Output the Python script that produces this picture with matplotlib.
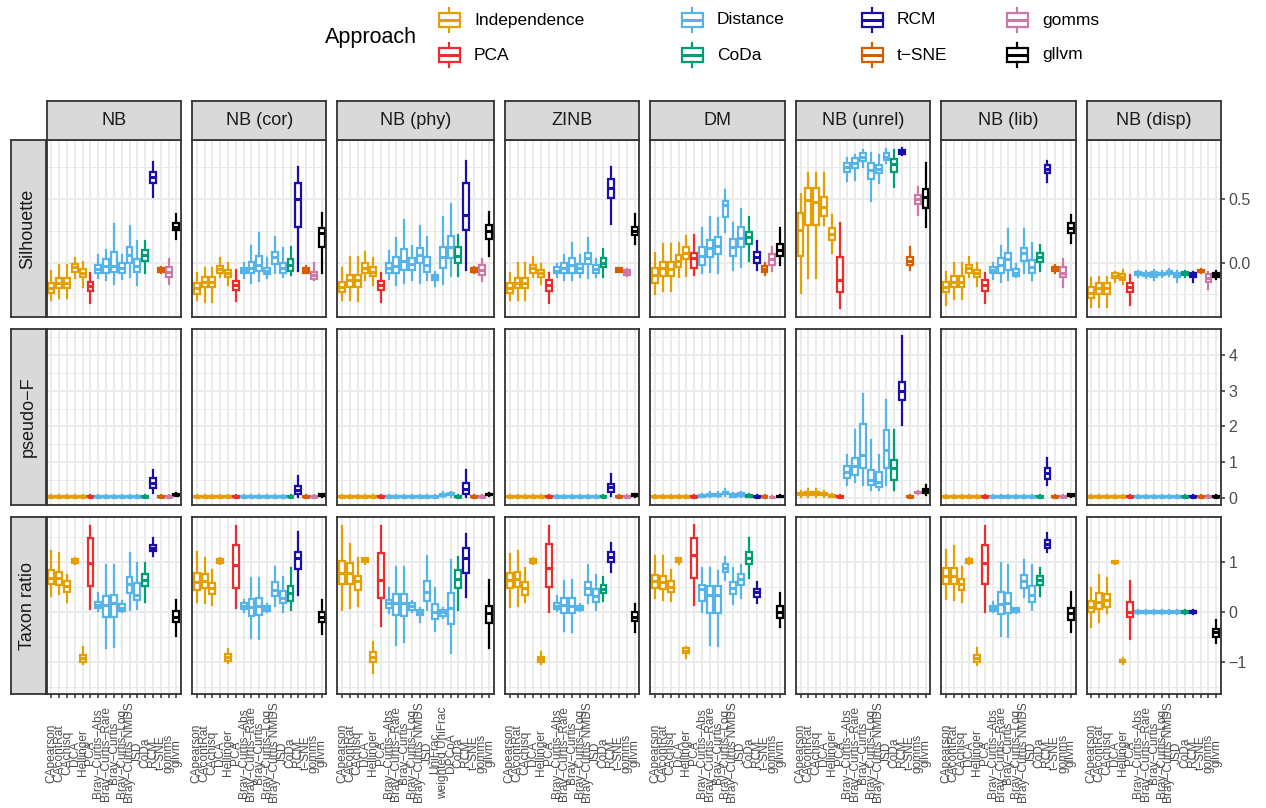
import matplotlib.pyplot as plt
from matplotlib.patches import Rectangle

plt.rcParams['font.family'] = ['Liberation Sans', 'DejaVu Sans']

W, H = 1266, 808

# methods in plotting order; NB (phy) has the phylogenetic distances as well
base_methods = ["CApearson", "CAcontRat", "CAchisq", "DCA", "Hellinger", "PCA",
                "Bray−Curtis−Abs", "Bray−Curtis−Rare", "Bray−Curtis", "Bray−Curtis−Log",
                "Bray−Curtis NMDS", "JSD", "CoDa", "RCM", "t−SNE", "gomms", "gllvm"]
phy_methods = base_methods[:12] + ["UniFrac", "weighted UniFrac", "DPCoA"] + base_methods[12:]

approach_of = {"CApearson": "Independence", "CAcontRat": "Independence", "CAchisq": "Independence",
               "DCA": "Independence", "Hellinger": "Independence", "PCA": "PCA",
               "CoDa": "CoDa", "RCM": "RCM", "t−SNE": "t−SNE", "gomms": "gomms", "gllvm": "gllvm"}
approaches = ["Independence", "PCA", "Distance", "CoDa", "RCM", "t−SNE", "gomms", "gllvm"]
approach_colors = ["#E69F00", "#EE2C2C", "#56B4E9", "#009E73", "#1A0DAB", "#D55E00", "#CC79A7", "#000000"]

col_names = ["NB", "NB (cor)", "NB (phy)", "ZINB", "DM", "NB (unrel)", "NB (lib)", "NB (disp)"]
row_names = ["Silhouette", "pseudo−F", "Taxon ratio"]

# box summaries: (lower whisker, q1, median, q3, upper whisker)
sil_nb = [(-0.294, -0.236, -0.200, -0.163, -0.066), (-0.281, -0.202, -0.157, -0.123, -0.018),
          (-0.276, -0.202, -0.157, -0.118, -0.018), (-0.123, -0.071, -0.037, -0.010, 0.034),
          (-0.189, -0.115, -0.084, -0.052, 0.008), (-0.320, -0.220, -0.184, -0.150, -0.079),
          (-0.123, -0.084, -0.052, -0.018, 0.060), (-0.136, -0.079, -0.026, 0.026, 0.100),
          (-0.168, -0.073, -0.026, 0.087, 0.304), (-0.131, -0.079, -0.039, -0.005, 0.060),
          (-0.115, 0.000, 0.060, 0.126, 0.289), (-0.176, -0.073, -0.026, 0.026, 0.173),
          (-0.079, 0.016, 0.058, 0.100, 0.173), (0.520, 0.630, 0.672, 0.711, 0.790),
          (-0.079, -0.071, -0.055, -0.039, -0.031), (-0.171, -0.110, -0.071, -0.031, 0.026),
          (0.186, 0.257, 0.283, 0.310, 0.383)]
sil_cor = [(-0.294, -0.247, -0.202, -0.157, -0.079), (-0.307, -0.194, -0.150, -0.110, -0.039),
           (-0.307, -0.194, -0.150, -0.110, -0.039), (-0.115, -0.079, -0.052, -0.026, 0.034),
           (-0.176, -0.115, -0.084, -0.058, -0.005), (-0.299, -0.215, -0.178, -0.142, -0.058),
           (-0.123, -0.079, -0.058, -0.039, -0.005), (-0.157, -0.079, -0.039, 0.008, 0.131),
           (-0.142, -0.063, -0.018, 0.055, 0.236), (-0.123, -0.092, -0.066, -0.045, 0.034),
           (-0.084, -0.010, 0.047, 0.087, 0.199), (-0.115, -0.079, -0.045, 0.000, 0.113),
           (-0.097, -0.063, -0.018, 0.026, 0.126), (-0.063, 0.278, 0.499, 0.625, 0.756),
           (-0.084, -0.079, -0.058, -0.045, -0.026), (-0.136, -0.131, -0.097, -0.071, -0.005),
           (-0.084, 0.126, 0.231, 0.270, 0.388)]
sil_phy = [(-0.294, -0.228, -0.189, -0.150, -0.045), (-0.294, -0.189, -0.136, -0.097, 0.042),
           (-0.299, -0.194, -0.136, -0.097, 0.042), (-0.136, -0.079, -0.045, -0.005, 0.087),
           (-0.176, -0.105, -0.071, -0.037, 0.034), (-0.307, -0.215, -0.178, -0.142, -0.084),
           (-0.131, -0.084, -0.045, -0.005, 0.094), (-0.176, -0.079, -0.026, 0.042, 0.192),
           (-0.163, -0.058, 0.016, 0.105, 0.336), (-0.136, -0.058, -0.010, 0.034, 0.131),
           (-0.163, -0.005, 0.060, 0.113, 0.289), (-0.136, -0.071, -0.018, 0.047, 0.199),
           (-0.184, -0.136, -0.115, -0.097, -0.071), (-0.168, -0.045, 0.047, 0.121, 0.362),
           (-0.105, 0.034, 0.126, 0.213, 0.462), (-0.105, 0.000, 0.052, 0.126, 0.218),
           (-0.058, 0.257, 0.375, 0.625, 0.803), (-0.079, -0.076, -0.058, -0.045, -0.037),
           (-0.142, -0.097, -0.058, -0.018, 0.026), (0.052, 0.186, 0.252, 0.297, 0.402)]
sil_zinb = [(-0.294, -0.241, -0.202, -0.163, -0.084), (-0.294, -0.202, -0.163, -0.123, -0.005),
            (-0.294, -0.202, -0.157, -0.118, -0.005), (-0.115, -0.079, -0.045, -0.018, 0.047),
            (-0.168, -0.115, -0.084, -0.058, -0.010), (-0.320, -0.220, -0.178, -0.136, -0.084),
            (-0.115, -0.084, -0.063, -0.037, -0.010), (-0.136, -0.084, -0.045, 0.000, 0.060),
            (-0.136, -0.079, -0.018, 0.034, 0.157), (-0.115, -0.079, -0.045, -0.010, 0.060),
            (-0.123, -0.010, 0.034, 0.073, 0.192), (-0.115, -0.079, -0.052, -0.018, 0.026),
            (-0.110, -0.037, 0.000, 0.034, 0.105), (0.304, 0.507, 0.585, 0.656, 0.751),
            (-0.076, -0.071, -0.058, -0.045, -0.039), (-0.102, -0.094, -0.076, -0.058, -0.052),
            (0.147, 0.218, 0.252, 0.283, 0.383)]
sil_dm = [(-0.247, -0.163, -0.097, -0.045, 0.079), (-0.220, -0.105, -0.045, 0.008, 0.147),
          (-0.220, -0.105, -0.050, 0.008, 0.147), (-0.110, -0.031, 0.016, 0.060, 0.152),
          (-0.105, 0.026, 0.079, 0.121, 0.210), (-0.097, -0.045, 0.034, 0.073, 0.218),
          (-0.084, -0.018, 0.052, 0.121, 0.270), (-0.071, 0.042, 0.113, 0.178, 0.357),
          (-0.079, 0.068, 0.131, 0.205, 0.349), (0.244, 0.362, 0.454, 0.486, 0.572),
          (-0.058, 0.052, 0.121, 0.184, 0.310), (-0.031, 0.126, 0.192, 0.283, 0.420),
          (0.016, 0.147, 0.199, 0.244, 0.362), (-0.058, 0.000, 0.047, 0.087, 0.173),
          (-0.097, -0.071, -0.050, -0.026, -0.005), (-0.063, -0.018, 0.026, 0.068, 0.121),
          (-0.018, 0.052, 0.100, 0.147, 0.270)]
sil_unrel = [(-0.241, 0.052, 0.257, 0.394, 0.538), (-0.123, 0.297, 0.493, 0.585, 0.709),
             (-0.123, 0.297, 0.480, 0.585, 0.709), (0.297, 0.367, 0.441, 0.520, 0.709),
             (0.073, 0.178, 0.226, 0.270, 0.375), (-0.360, -0.228, -0.136, 0.042, 0.310),
             (0.646, 0.717, 0.756, 0.782, 0.822), (0.651, 0.743, 0.782, 0.822, 0.848),
             (0.756, 0.803, 0.835, 0.861, 0.887), (0.488, 0.656, 0.730, 0.782, 0.861),
             (0.625, 0.703, 0.735, 0.769, 0.848), (0.782, 0.808, 0.835, 0.861, 0.892),
             (0.598, 0.717, 0.777, 0.814, 0.887), (0.845, 0.856, 0.871, 0.887, 0.900),
             (-0.058, -0.018, 0.013, 0.047, 0.126), (0.375, 0.462, 0.499, 0.533, 0.593),
             (0.278, 0.428, 0.520, 0.577, 0.782)]
sil_lib = [(-0.333, -0.228, -0.189, -0.150, -0.071), (-0.289, -0.189, -0.150, -0.105, 0.000),
           (-0.289, -0.189, -0.150, -0.105, 0.000), (-0.115, -0.079, -0.045, -0.018, 0.047),
           (-0.184, -0.115, -0.084, -0.058, -0.005), (-0.320, -0.220, -0.178, -0.136, -0.079),
           (-0.131, -0.084, -0.058, -0.031, 0.000), (-0.150, -0.079, -0.018, 0.034, 0.131),
           (-0.136, -0.058, 0.026, 0.073, 0.262), (-0.115, -0.105, -0.079, -0.052, -0.010),
           (-0.084, 0.016, 0.079, 0.118, 0.262), (-0.136, -0.079, -0.037, 0.021, 0.157),
           (-0.063, 0.008, 0.042, 0.073, 0.139), (0.638, 0.709, 0.738, 0.769, 0.803),
           (-0.079, -0.066, -0.050, -0.037, -0.018), (-0.189, -0.110, -0.079, -0.037, 0.026),
           (0.157, 0.236, 0.276, 0.310, 0.375)]
sil_disp = [(-0.352, -0.281, -0.236, -0.189, -0.123), (-0.346, -0.247, -0.202, -0.163, -0.115),
            (-0.346, -0.247, -0.202, -0.163, -0.115), (-0.150, -0.123, -0.105, -0.084, -0.071),
            (-0.168, -0.136, -0.115, -0.092, -0.058), (-0.333, -0.228, -0.189, -0.157, -0.097),
            (-0.110, -0.097, -0.084, -0.073, -0.063), (-0.123, -0.105, -0.092, -0.079, -0.063),
            (-0.136, -0.110, -0.092, -0.073, -0.058), (-0.110, -0.097, -0.087, -0.079, -0.068),
            (-0.105, -0.089, -0.076, -0.066, -0.052), (-0.150, -0.110, -0.094, -0.079, -0.063),
            (-0.110, -0.100, -0.087, -0.073, -0.066), (-0.150, -0.115, -0.100, -0.084, -0.071),
            (-0.084, -0.076, -0.066, -0.058, -0.052), (-0.210, -0.150, -0.118, -0.089, -0.071),
            (-0.131, -0.115, -0.097, -0.079, -0.066)]

# pseudo-F: most methods sit right at zero
Z = (0.00, 0.015, 0.03, 0.05, 0.07)
pf_nb = [Z, Z, Z, Z, Z, Z, Z, Z, Z, Z, Z, Z, Z, (0.14, 0.28, 0.42, 0.56, 0.78), Z, Z,
         (0.05, 0.07, 0.09, 0.11, 0.13)]
pf_cor = [Z, Z, Z, Z, Z, Z, Z, Z, Z, Z, Z, Z, Z, (0.03, 0.11, 0.22, 0.34, 0.62), Z, Z,
          (0.04, 0.06, 0.08, 0.10, 0.12)]
pf_phy = [Z, Z, Z, Z, Z, Z, Z, Z, Z, Z, Z, Z, Z, (0.04, 0.06, 0.09, 0.12, 0.16),
          (0.04, 0.07, 0.10, 0.13, 0.18), Z, (0.03, 0.11, 0.25, 0.42, 0.78), Z, Z,
          (0.05, 0.08, 0.10, 0.12, 0.14)]
pf_zinb = [Z, Z, Z, Z, Z, Z, Z, Z, Z, Z, Z, Z, Z, (0.06, 0.17, 0.30, 0.39, 0.67), Z, Z,
           (0.04, 0.06, 0.08, 0.10, 0.12)]
pf_dm = [Z, Z, Z, Z, Z, Z, (0.02, 0.04, 0.06, 0.08, 0.12), (0.02, 0.05, 0.08, 0.11, 0.16),
         (0.02, 0.05, 0.08, 0.12, 0.18), (0.06, 0.10, 0.14, 0.18, 0.24),
         (0.02, 0.04, 0.07, 0.10, 0.14), (0.03, 0.06, 0.10, 0.13, 0.18),
         (0.02, 0.04, 0.06, 0.08, 0.10), Z, Z, (0.01, 0.02, 0.03, 0.04, 0.06),
         (0.02, 0.03, 0.05, 0.06, 0.08)]
pf_unrel = [(0.03, 0.07, 0.10, 0.13, 0.20), (0.04, 0.09, 0.12, 0.17, 0.26),
            (0.04, 0.09, 0.13, 0.17, 0.26), (0.04, 0.08, 0.11, 0.14, 0.20),
            (0.02, 0.04, 0.05, 0.07, 0.10), Z,
            (0.36, 0.56, 0.73, 0.90, 1.20), (0.45, 0.64, 0.90, 1.12, 1.90),
            (0.36, 0.84, 1.20, 2.07, 2.90), (0.22, 0.36, 0.50, 0.78, 1.62),
            (0.22, 0.31, 0.45, 0.73, 1.20), (0.36, 0.84, 1.34, 1.90, 2.74),
            (0.22, 0.50, 0.84, 1.06, 1.90), (2.04, 2.74, 3.00, 3.24, 4.53), Z,
            (0.12, 0.14, 0.16, 0.18, 0.20), (0.08, 0.14, 0.20, 0.25, 0.36)]
pf_lib = [Z, Z, Z, Z, Z, Z, Z, Z, Z, Z, Z, Z, Z, (0.36, 0.53, 0.70, 0.84, 1.12), Z, Z,
          (0.04, 0.06, 0.08, 0.10, 0.12)]
pf_disp = [Z, Z, Z, Z, Z, Z, Z, Z, Z, Z, Z, Z, Z, Z, Z, Z, Z]

tr_nb = [(0.327, 0.553, 0.687, 0.840, 1.220), (0.353, 0.540, 0.673, 0.807, 1.173),
         (0.207, 0.393, 0.520, 0.620, 0.740), (0.967, 0.987, 1.027, 1.060, 1.073),
         (-1.040, -0.993, -0.913, -0.860, -0.693), (0.060, 0.527, 0.987, 1.487, 1.727),
         (0.020, 0.073, 0.140, 0.207, 0.373), (-0.713, -0.107, 0.140, 0.320, 0.940),
         (-0.693, -0.093, 0.173, 0.340, 0.940), (-0.007, 0.027, 0.087, 0.153, 0.220),
         (0.040, 0.373, 0.553, 0.707, 1.173), (0.060, 0.240, 0.340, 0.573, 0.973),
         (0.193, 0.527, 0.640, 0.753, 0.973), (1.127, 1.220, 1.287, 1.340, 1.473),
         None, None, (-0.473, -0.207, -0.093, 0.020, 0.240)]
tr_cor = [(0.193, 0.440, 0.607, 0.773, 1.193), (0.173, 0.473, 0.620, 0.753, 1.087),
          (0.140, 0.353, 0.473, 0.587, 0.840), (0.967, 0.987, 1.027, 1.060, 1.073),
          (-1.027, -0.973, -0.907, -0.847, -0.740), (0.087, 0.473, 0.940, 1.340, 1.727),
          (0.007, 0.053, 0.127, 0.173, 0.240), (-0.513, -0.073, 0.107, 0.260, 0.687),
          (-0.540, -0.060, 0.127, 0.287, 0.687), (-0.007, 0.020, 0.073, 0.127, 0.153),
          (0.127, 0.327, 0.440, 0.593, 0.907), (0.007, 0.173, 0.287, 0.420, 0.707),
          (0.040, 0.220, 0.373, 0.527, 0.887), (0.340, 0.860, 1.073, 1.207, 1.593),
          None, None, (-0.447, -0.193, -0.093, 0.007, 0.240)]
tr_phy = [(0.040, 0.553, 0.773, 1.020, 1.727), (0.087, 0.553, 0.773, 0.973, 1.353),
          (0.127, 0.440, 0.620, 0.727, 1.087), (0.967, 0.993, 1.033, 1.073, 1.087),
          (-1.227, -0.993, -0.893, -0.807, -0.593), (-0.273, 0.273, 0.640, 1.173, 1.727),
          (-0.027, 0.073, 0.173, 0.240, 0.473), (-0.660, -0.060, 0.173, 0.353, 0.907),
          (-0.607, -0.073, 0.173, 0.353, 0.907), (-0.007, 0.040, 0.127, 0.173, 0.220),
          (-0.207, -0.060, -0.007, 0.040, 0.073), (0.040, 0.220, 0.407, 0.620, 1.127),
          (-0.380, -0.140, 0.007, 0.153, 0.473), (-0.113, -0.073, -0.007, 0.040, 0.087),
          (-0.827, -0.247, 0.073, 0.373, 1.040), (0.040, 0.487, 0.660, 0.840, 1.107),
          (0.307, 0.773, 1.073, 1.287, 1.553), None, None,
          (-0.727, -0.227, -0.027, 0.127, 0.640)]
tr_zinb = [(0.107, 0.487, 0.640, 0.773, 1.153), (0.127, 0.507, 0.660, 0.793, 1.220),
           (0.193, 0.340, 0.487, 0.607, 0.873), (0.967, 0.973, 1.013, 1.053, 1.073),
           (-1.047, -0.993, -0.940, -0.893, -0.807), (0.007, 0.507, 0.887, 1.353, 1.727),
           (0.020, 0.060, 0.127, 0.173, 0.327), (-0.380, -0.027, 0.140, 0.287, 0.620),
           (-0.393, -0.027, 0.127, 0.287, 0.640), (0.020, 0.040, 0.087, 0.127, 0.153),
           (0.173, 0.340, 0.487, 0.607, 0.940), (0.040, 0.193, 0.327, 0.460, 0.740),
           (0.220, 0.373, 0.460, 0.540, 0.707), (0.793, 1.007, 1.107, 1.207, 1.373),
           None, None, (-0.407, -0.180, -0.093, -0.007, 0.153)]
tr_dm = [(0.273, 0.473, 0.620, 0.740, 1.127), (0.240, 0.460, 0.607, 0.727, 1.127),
         (0.220, 0.393, 0.507, 0.620, 0.840), (0.967, 0.993, 1.033, 1.073, 1.087),
         (-0.913, -0.827, -0.780, -0.727, -0.693), (0.140, 0.687, 1.140, 1.487, 1.740),
         (0.007, 0.220, 0.460, 0.540, 0.873), (-0.660, -0.027, 0.340, 0.527, 0.873),
         (-0.673, -0.027, 0.340, 0.527, 0.820), (0.640, 0.807, 0.887, 0.953, 1.107),
         (0.153, 0.353, 0.487, 0.607, 0.887), (0.287, 0.540, 0.660, 0.753, 0.940),
         (0.687, 0.953, 1.073, 1.193, 1.473), (0.173, 0.307, 0.393, 0.460, 0.593),
         None, None, (-0.293, -0.127, 0.007, 0.127, 0.373)]
tr_unrel = [None] * 17
tr_lib = [(0.260, 0.553, 0.727, 0.887, 1.240), (0.240, 0.553, 0.727, 0.887, 1.327),
          (0.193, 0.440, 0.553, 0.660, 0.907), (0.967, 0.973, 1.020, 1.060, 1.073),
          (-1.060, -0.993, -0.927, -0.860, -0.713), (-0.007, 0.553, 0.973, 1.340, 1.727),
          (0.007, 0.027, 0.073, 0.127, 0.193), (-0.473, -0.047, 0.153, 0.393, 0.973),
          (-0.493, -0.027, 0.173, 0.373, 0.940), (-0.013, -0.007, 0.033, 0.073, 0.087),
          (0.307, 0.487, 0.620, 0.740, 1.040), (0.040, 0.193, 0.340, 0.527, 0.940),
          (0.327, 0.540, 0.640, 0.727, 0.887), (1.193, 1.287, 1.367, 1.440, 1.573),
          None, None, (-0.393, -0.160, -0.027, 0.073, 0.393)]
T0 = (-0.040, -0.020, 0.000, 0.020, 0.040)
tr_disp = [(-0.293, -0.007, 0.107, 0.220, 0.487), (-0.193, 0.060, 0.193, 0.373, 0.740),
           (-0.027, 0.107, 0.240, 0.353, 0.687), (0.970, 0.985, 1.000, 1.015, 1.030),
           (-1.047, -1.007, -0.980, -0.960, -0.927), (-0.540, -0.093, 0.007, 0.207, 0.620),
           T0, T0, T0, T0, T0, T0, T0, T0, None, None,
           (-0.627, -0.493, -0.407, -0.340, -0.160)]

panel_methods = [base_methods, base_methods, phy_methods, base_methods,
                 base_methods, base_methods, base_methods, base_methods]
grid_data = [
    [sil_nb, sil_cor, sil_phy, sil_zinb, sil_dm, sil_unrel, sil_lib, sil_disp],
    [pf_nb, pf_cor, pf_phy, pf_zinb, pf_dm, pf_unrel, pf_lib, pf_disp],
    [tr_nb, tr_cor, tr_phy, tr_zinb, tr_dm, tr_unrel, tr_lib, tr_disp],
]
row_ylim = [(-0.428, 0.966), (-0.21, 4.74), (-1.64, 1.90)]
row_major = [[0.0, 0.5], [0, 1, 2, 3, 4], [-1, 0, 1]]
row_major_labels = [["0.0", "0.5"], ["0", "1", "2", "3", "4"], ["−1", "0", "1"]]
row_minor = [[-0.25, 0.25, 0.75], [0.5, 1.5, 2.5, 3.5, 4.5], [-1.5, -0.5, 0.5, 1.5]]

color_of = dict(zip(approaches, approach_colors))


def method_color(m):
    return color_of[approach_of.get(m, "Distance")]


def px_axes(fig, x0, y0, x1, y1):
    return fig.add_axes([x0 / W, 1 - y1 / H, (x1 - x0) / W, (y1 - y0) / H])


BORDER = "#333333"
GRID = "#EBEBEB"
LW = 1.6

fig = plt.figure(figsize=(W / 100, H / 100), dpi=100)

# panel geometry in pixels (free x space, width follows number of methods)
left0, gap, right_end = 46.7, 11.0, 1221.0
n_units = [len(m) + 1.2 for m in panel_methods]
unit = (right_end - left0 - gap * (len(col_names) - 1)) / sum(n_units)
col_x = []
x = left0
for nu in n_units:
    col_x.append((x, x + nu * unit))
    x += nu * unit + gap
row_y = [(140.0, 317.0), (328.5, 505.5), (517.0, 694.0)]

for r in range(3):
    for c in range(len(col_names)):
        x0, x1 = col_x[c]
        y0, y1 = row_y[r]
        ax = px_axes(fig, x0, y0, x1, y1)
        methods = panel_methods[c]
        n = len(methods)
        ax.set_xlim(0.4, n + 0.6)
        ax.set_ylim(*row_ylim[r])
        ax.set_axisbelow(True)
        ax.set_xticks(range(1, n + 1))
        ax.set_yticks(row_major[r])
        ax.set_yticks(row_minor[r], minor=True)
        ax.grid(which="major", color=GRID, linewidth=1.4)
        ax.grid(which="minor", axis="y", color=GRID, linewidth=0.7)
        for s in ax.spines.values():
            s.set_color(BORDER)
            s.set_linewidth(1.3)

        for i, (m, st) in enumerate(zip(methods, grid_data[r][c]), start=1):
            if st is None:
                continue
            lo, q1, med, q3, hi = st
            col = method_color(m)
            ax.bxp([dict(whislo=lo, q1=q1, med=med, q3=q3, whishi=hi, fliers=[])],
                   positions=[i], widths=0.75, showcaps=False, patch_artist=True,
                   manage_ticks=False,
                   boxprops=dict(facecolor="white", edgecolor=col, linewidth=LW),
                   whiskerprops=dict(color=col, linewidth=LW),
                   medianprops=dict(color=col, linewidth=2.2, solid_capstyle="butt"))

        if r == 2:
            # labels are centred on a common line below the panel
            ax.set_xticklabels(methods, rotation=90, fontsize=8.6, color="#4D4D4D",
                               ha="center", va="center")
            ax.tick_params(axis="x", length=3, width=1.1, color=BORDER, pad=39.5)
        else:
            ax.tick_params(axis="x", length=0, labelbottom=False)

        ax.tick_params(axis="y", which="minor", length=0)
        if c == len(col_names) - 1:
            ax.yaxis.tick_right()
            ax.set_yticklabels(row_major_labels[r])
            ax.tick_params(axis="y", which="major", length=3, width=1.1, color=BORDER,
                           labelsize=11.5, labelcolor="#4D4D4D", pad=2.5)
        else:
            ax.tick_params(axis="y", which="both", left=False, labelleft=False)

        # column strip on top
        if r == 0:
            sx = px_axes(fig, x0, 101.0, x1, 140.0)
            sx.set_facecolor("#D9D9D9")
            sx.set_xticks([])
            sx.set_yticks([])
            for s in sx.spines.values():
                s.set_color(BORDER)
                s.set_linewidth(1.3)
            sx.text(0.5, 0.5, col_names[c], ha="center", va="center", fontsize=13,
                    color="#1A1A1A", transform=sx.transAxes)

    # row strip on the left
    y0, y1 = row_y[r]
    sy = px_axes(fig, 10.5, y0, 45.5, y1)
    sy.set_facecolor("#D9D9D9")
    sy.set_xticks([])
    sy.set_yticks([])
    for s in sy.spines.values():
        s.set_color(BORDER)
        s.set_linewidth(1.3)
    sy.text(0.5, 0.5, row_names[r], ha="center", va="center", rotation=90, fontsize=13,
            color="#1A1A1A", transform=sy.transAxes)

# legend drawn in pixel coordinates
lg = fig.add_axes([0, 0, 1, 1], facecolor="none")
lg.set_xlim(0, W)
lg.set_ylim(H, 0)
lg.axis("off")
lg.text(325, 38, "Approach", ha="left", va="center", fontsize=15.5, color="black")
key_x = [449, 692, 872, 1017]
key_y = [20, 55]
for k, (name, col) in enumerate(zip(approaches, approach_colors)):
    cx = key_x[k // 2]
    cy = key_y[k % 2]
    lg.add_patch(Rectangle((cx - 10.5, cy - 7), 21, 14, facecolor="white", edgecolor=col,
                           linewidth=LW))
    lg.plot([cx - 10.5, cx + 10.5], [cy, cy], color=col, linewidth=2.2, solid_capstyle="butt")
    lg.plot([cx, cx], [cy - 12, cy - 7], color=col, linewidth=LW)
    lg.plot([cx, cx], [cy + 7, cy + 12], color=col, linewidth=LW)
    lg.text(cx + 25, cy, name, ha="left", va="center", fontsize=12.5, color="black")

fig.savefig("out.png", dpi=100)
